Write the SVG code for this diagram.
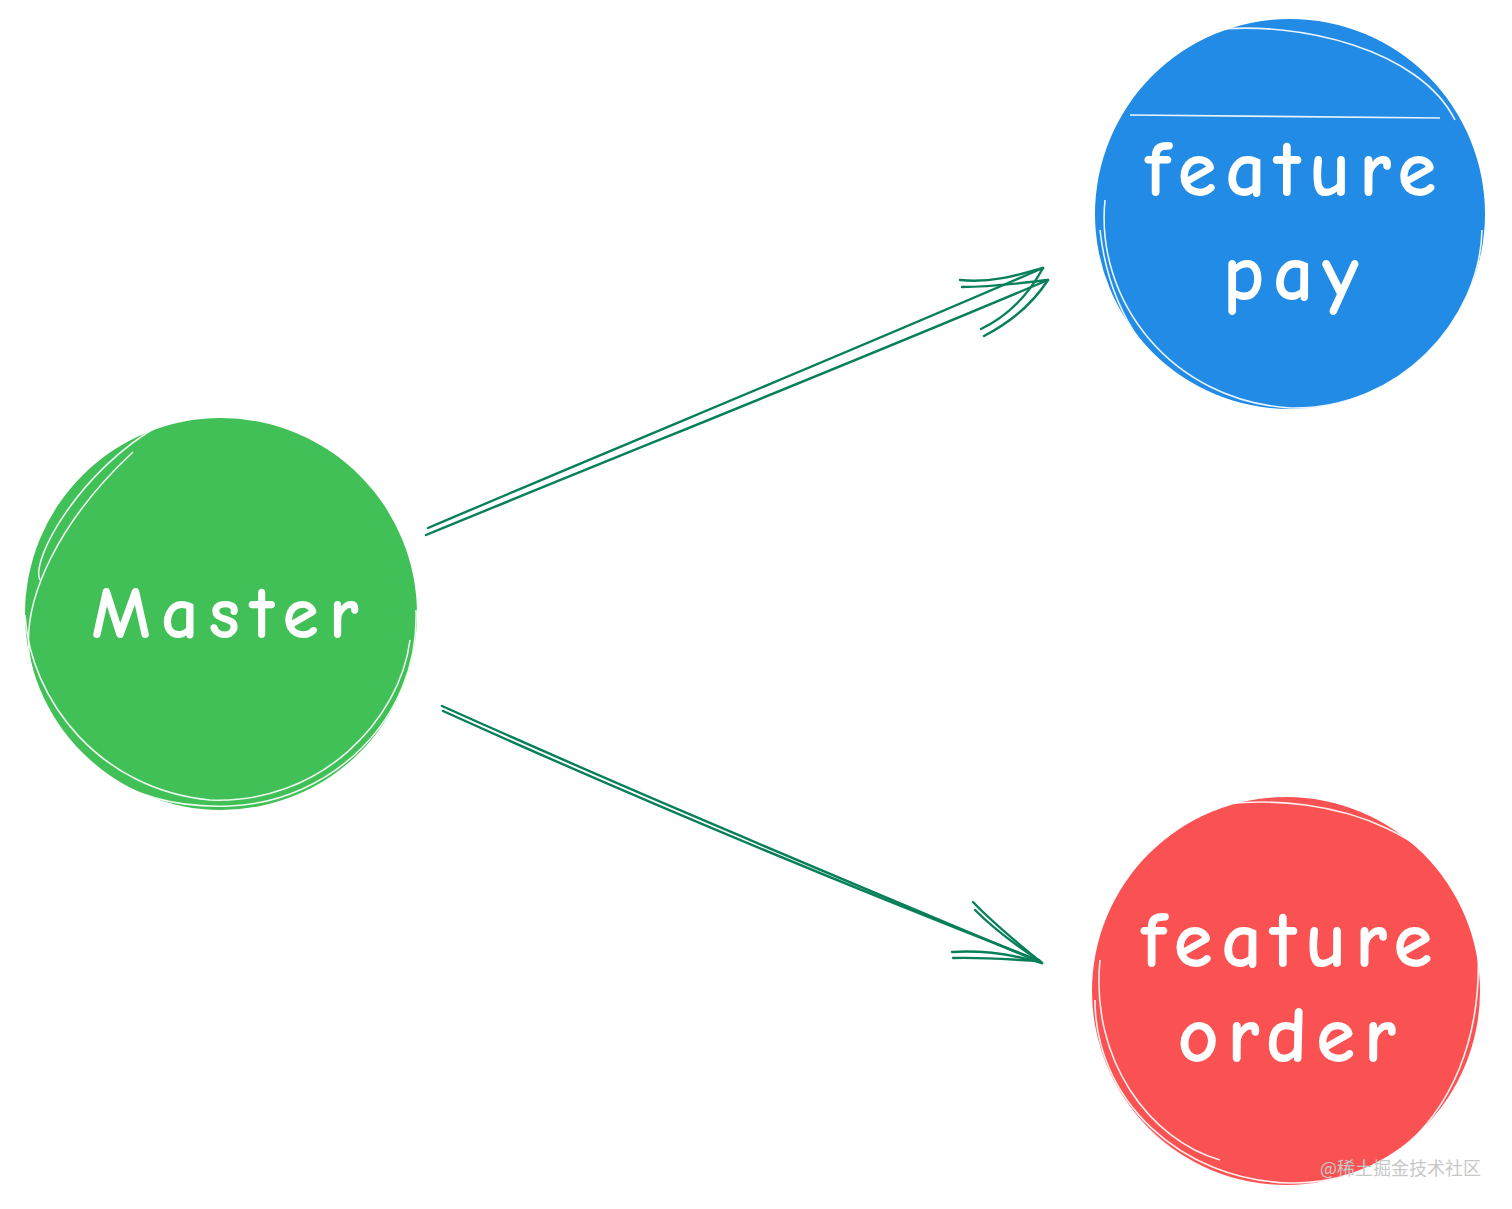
<svg xmlns="http://www.w3.org/2000/svg" width="1512" height="1209" viewBox="0 0 1512 1209">
<style>
.lbl{font-family:"Comic Neue","Lato","Liberation Sans",sans-serif;font-weight:bold;fill:#ffffff;text-anchor:middle}
.sk{fill:none;stroke:#ffffff;stroke-width:1.6;opacity:0.9}
.ar{fill:none;stroke:#087f5b;stroke-width:2.4;stroke-linecap:round}
.wm{font-family:"Noto Sans CJK SC","Liberation Sans",sans-serif;font-size:18px;fill:#c8c8c8}
</style>
<rect width="1512" height="1209" fill="#ffffff"/>
<g id="master">
<circle cx="221" cy="614" r="196" fill="#40c057"/>
<path class="sk" d="M133 452 C60 520 20 600 30 660 C50 760 130 810 230 806 C330 802 420 720 416 610"/>
<path class="sk" d="M25 615 C30 700 100 790 210 800 C320 805 400 720 410 640"/>
<path class="sk" d="M160 425 C80 470 30 560 40 580"/>
<text class="lbl" x="230" y="638" font-size="74" letter-spacing="10">Master</text>
</g>
<g id="feature-pay">
<circle cx="1290" cy="214" r="195" fill="#228be6"/>
<path class="sk" d="M1130 115 L1440 118"/>
<path class="sk" d="M1105 200 C1095 300 1170 400 1290 408 C1400 410 1480 320 1482 230"/>
<path class="sk" d="M1210 30 C1300 20 1420 50 1455 120"/>
<path class="sk" d="M1100 230 C1110 320 1160 380 1210 395"/>
<text class="lbl" x="1295" y="196" font-size="80" letter-spacing="8.5">feature</text>
<text class="lbl" x="1295" y="300" font-size="80" letter-spacing="8.5">pay</text>
</g>
<g id="feature-order">
<circle cx="1286" cy="991" r="194" fill="#fa5252"/>
<path class="sk" d="M1095 1000 C1095 1100 1180 1180 1290 1183 C1380 1185 1450 1120 1460 1080"/>
<path class="sk" d="M1160 820 C1230 790 1380 790 1455 880"/>
<path class="sk" d="M1100 960 C1090 1060 1150 1140 1220 1160"/>
<path class="sk" d="M1478 950 C1482 1040 1450 1110 1400 1150"/>
<text class="lbl" x="1291" y="967" font-size="80" letter-spacing="8.5">feature</text>
<text class="lbl" x="1291" y="1062" font-size="80" letter-spacing="8.5">order</text>
</g>
<g id="connectors">
<path class="ar" d="M426 535 C620 455 840 368 1048 280"/>
<path class="ar" d="M428 528 C620 446 840 356 1043 268"/>
<path class="ar" d="M960 280 C990 283 1015 276 1043 268"/>
<path class="ar" d="M962 287 C995 287 1020 283 1048 280"/>
<path class="ar" d="M981 329 C1010 315 1030 292 1043 268"/>
<path class="ar" d="M984 336 C1015 320 1035 300 1048 280"/>
<path class="ar" d="M442 706 C640 795 840 878 1042 963"/>
<path class="ar" d="M443 711 C640 800 840 883 1040 961"/>
<path class="ar" d="M973 902 C995 925 1020 945 1042 963"/>
<path class="ar" d="M975 910 C995 930 1020 948 1040 961"/>
<path class="ar" d="M952 952 C985 950 1015 955 1042 963"/>
<path class="ar" d="M953 958 C985 957 1015 960 1040 961"/>
</g>
<text class="wm" x="1320" y="1175">@稀土掘金技术社区</text>
</svg>
